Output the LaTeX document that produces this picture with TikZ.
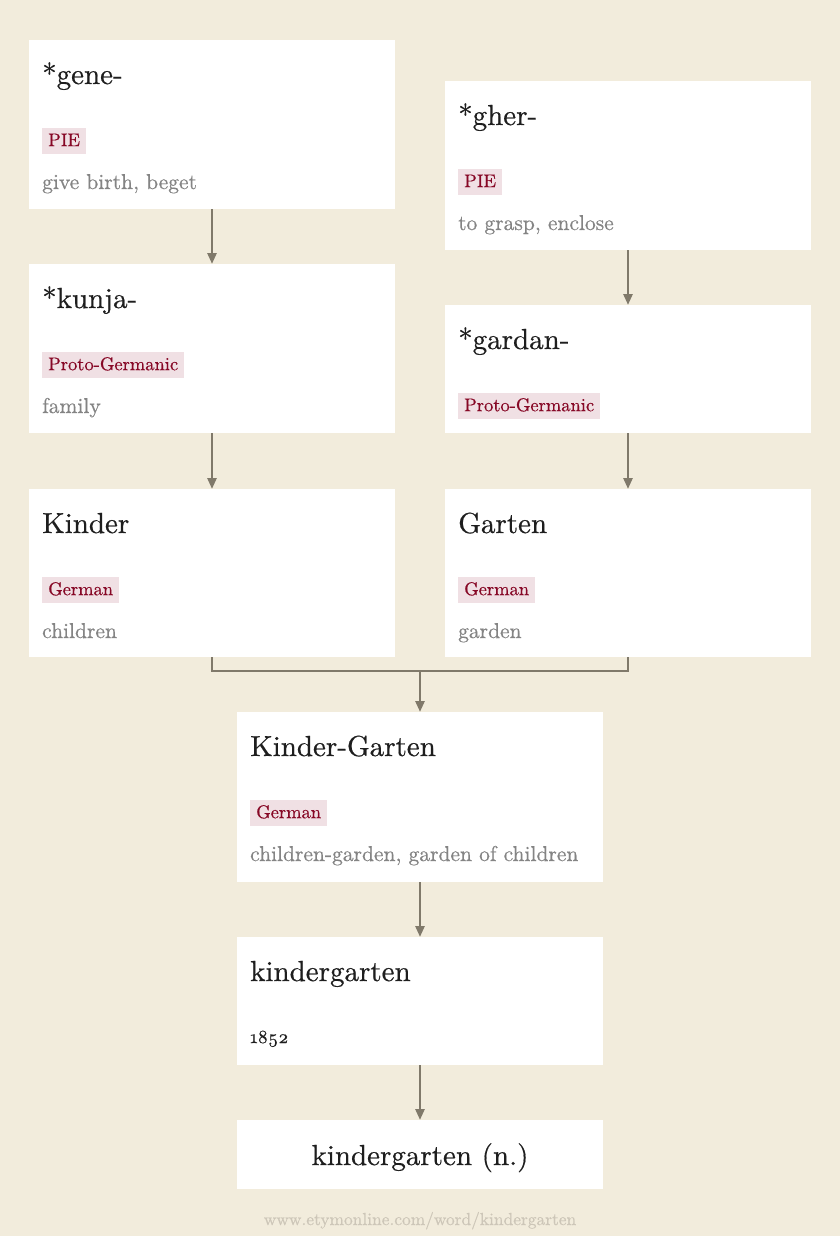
\documentclass[tikz,border=0pt]{standalone}
\usepackage{fontspec}
\setmainfont{lmroman10-regular}[Extension=.otf, FakeBold=0.5]
\usetikzlibrary{arrows.meta}
\definecolor{bgc}{RGB}{242,236,220}
\definecolor{arrc}{RGB}{128,121,106}
\definecolor{ttlc}{RGB}{30,30,30}
\definecolor{glc}{RGB}{132,132,132}
\definecolor{tagbg}{RGB}{240,224,228}
\definecolor{tagfg}{RGB}{135,8,38}
\definecolor{ftc}{RGB}{205,198,184}
\begin{document}
\begin{tikzpicture}[x=1pt,y=-1pt,
  box/.style={fill=white, anchor=north west, minimum width=366pt, inner sep=0pt, outer sep=0pt},
  ttl/.style={anchor=base west, inner sep=0pt, text=ttlc, font=\fontsize{29}{34}\selectfont},
  tag/.style={anchor=north west, fill=tagbg, text=tagfg, inner xsep=6pt, inner ysep=0pt,
    text height=18pt, text depth=8pt, font=\fontsize{18.5}{22}\selectfont},
  gloss/.style={anchor=base west, inner sep=0pt, text=glc, font=\fontsize{21.5}{25}\selectfont},
  ln/.style={draw=arrc, line width=2.6pt},
  arr/.style={ln, -{Triangle[length=11pt,width=9pt]}},
  foot/.style={anchor=base, inner sep=0pt, text=ftc, font=\fontsize{17.4}{20}\selectfont}
]
\fill[bgc] (0,0) rectangle (840,1236);
\useasboundingbox (0,0) rectangle (840,1236);

% boxes
\node[box, minimum height=169pt] (b1) at (29,40) {};
\node[box, minimum height=169pt] (b2) at (445,81) {};
\node[box, minimum height=169pt] (b3) at (29,264) {};
\node[box, minimum height=128pt] (b4) at (445,305) {};
\node[box, minimum height=168pt] (b5) at (29,489) {};
\node[box, minimum height=168pt] (b6) at (445,489) {};
\node[box, minimum height=170pt] (b7) at (237,712) {};
\node[box, minimum height=128pt] (b8) at (237,937) {};
\node[box, minimum height=69pt] (b9) at (237,1120) {};

% texts
\node[ttl] (t1) at ([shift={(13,44)}]b1.north west) {*gene-};
\node[tag] (g1) at ([shift={(13,88)}]b1.north west) {PIE};
\node[gloss] (s1) at ([shift={(13,149)}]b1.north west) {give birth, beget};

\node[ttl] (t2) at ([shift={(13,44)}]b2.north west) {*gher-};
\node[tag] (g2) at ([shift={(13,88)}]b2.north west) {PIE};
\node[gloss] (s2) at ([shift={(13,149)}]b2.north west) {to grasp, enclose};

\node[ttl] (t3) at ([shift={(13,44)}]b3.north west) {*kunja-};
\node[tag] (g3) at ([shift={(13,88)}]b3.north west) {Proto-Germanic};
\node[gloss] (s3) at ([shift={(13,149)}]b3.north west) {family};

\node[ttl] (t4) at ([shift={(13,44)}]b4.north west) {*gardan-};
\node[tag] (g4) at ([shift={(13,88)}]b4.north west) {Proto-Germanic};

\node[ttl] (t5) at ([shift={(13,44)}]b5.north west) {Kinder};
\node[tag] (g5) at ([shift={(13,88)}]b5.north west) {German};
\node[gloss] (s5) at ([shift={(13,149)}]b5.north west) {children};

\node[ttl] (t6) at ([shift={(13,44)}]b6.north west) {Garten};
\node[tag] (g6) at ([shift={(13,88)}]b6.north west) {German};
\node[gloss] (s6) at ([shift={(13,149)}]b6.north west) {garden};

\node[ttl] (t7) at ([shift={(13,44)}]b7.north west) {Kinder-Garten};
\node[tag] (g7) at ([shift={(13,88)}]b7.north west) {German};
\node[gloss] (s7) at ([shift={(13,149)}]b7.north west) {children-garden, garden of children};

\node[ttl] (t8) at ([shift={(13,44)}]b8.north west) {kindergarten};
\node[anchor=base west, inner sep=0pt, text=ttlc, font=\fontsize{18.5}{22}\selectfont] (y8) at ([shift={(13,106)}]b8.north west) {\oldstylenums{1852}};

\node[anchor=base, inner sep=0pt, text=ttlc, font=\fontsize{29}{34}\selectfont] (t9) at ([shift={(0,45)}]b9.north) {kindergarten (n.)};

\node[foot] (ft) at (420,1225) {www.etymonline.com/word/kindergarten};

% connectors
\draw[arr] (b1.south) -- (b3.north);
\draw[arr] (b3.south) -- (b5.north);
\draw[arr] (b2.south) -- (b4.north);
\draw[arr] (b4.south) -- (b6.north);
\path (b5.south) -- ++(0,14) coordinate (m);
\draw[ln] (b5.south) -- (m) -| (b6.south);
\draw[arr] (b7.north |- m) -- (b7.north);
\draw[arr] (b7.south) -- (b8.north);
\draw[arr] (b8.south) -- (b9.north);
\end{tikzpicture}
\end{document}
